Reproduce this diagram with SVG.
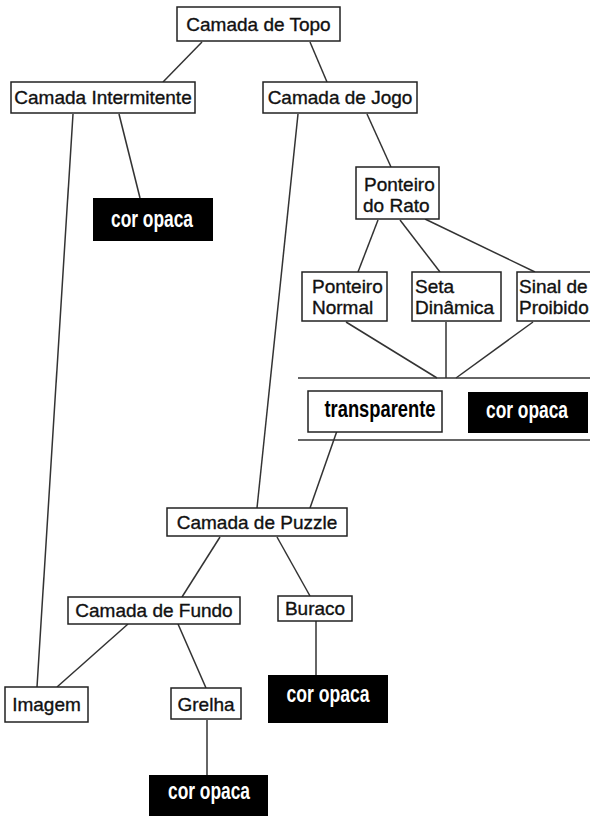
<svg xmlns="http://www.w3.org/2000/svg" width="590" height="816" viewBox="0 0 590 816">
<style>
.b{fill:#fff;stroke:#222;stroke-width:1.5}
.k{fill:#000;stroke:none}
.t{font-family:"Liberation Sans",Arial,sans-serif;font-size:19px;fill:#111;stroke:#111;stroke-width:0.35}
.c{text-anchor:middle}
.w{font-family:"Liberation Sans",Arial,sans-serif;font-weight:bold;font-size:24px;fill:#fff}
.d{font-family:"Liberation Sans",Arial,sans-serif;font-weight:bold;font-size:24px;fill:#000}
.e{stroke:#333;stroke-width:1.5;fill:none}
</style>
<rect width="590" height="816" fill="#fff"/>
<g id="connectors">
<line class="e" x1="202" y1="42" x2="163" y2="82"/>
<line class="e" x1="310" y1="42" x2="327" y2="82"/>
<line class="e" x1="73" y1="114" x2="37" y2="687"/>
<line class="e" x1="119" y1="114" x2="140" y2="198"/>
<line class="e" x1="298" y1="114" x2="257" y2="508"/>
<line class="e" x1="367" y1="114" x2="391" y2="167"/>
<line class="e" x1="378" y1="220" x2="358" y2="272"/>
<line class="e" x1="400" y1="220" x2="440" y2="272"/>
<line class="e" x1="425" y1="219" x2="535" y2="272"/>
<line class="e" x1="346" y1="322" x2="437" y2="378"/>
<line class="e" x1="446" y1="322" x2="446" y2="378"/>
<line class="e" x1="533" y1="322" x2="456" y2="378"/>
<line class="e" x1="298" y1="378" x2="590" y2="378"/>
<line class="e" x1="298" y1="440" x2="590" y2="440"/>
<line class="e" x1="338" y1="428" x2="310" y2="508"/>
<line class="e" x1="220" y1="537" x2="182" y2="597"/>
<line class="e" x1="277" y1="537" x2="310" y2="596"/>
<line class="e" x1="128" y1="624" x2="57" y2="687"/>
<line class="e" x1="178" y1="624" x2="206" y2="688"/>
<line class="e" x1="316" y1="621" x2="316" y2="675"/>
<line class="e" x1="207" y1="720" x2="207" y2="775"/>
</g>
<g id="topo"><rect class="b" x="177" y="7" width="163" height="34"/><text class="t c" x="258.5" y="31">Camada de Topo</text></g>
<g id="intermitente"><rect class="b" x="11" y="82" width="184" height="31"/><text class="t c" x="103" y="104">Camada Intermitente</text></g>
<g id="jogo"><rect class="b" x="263" y="82" width="154" height="31"/><text class="t c" x="340" y="104">Camada de Jogo</text></g>
<g id="opaca1"><rect class="k" x="93" y="198" width="120" height="43"/><text class="w c" x="152" y="227" textLength="82" lengthAdjust="spacingAndGlyphs">cor opaca</text></g>
<g id="rato"><rect class="b" x="356" y="167" width="83" height="52"/><text class="t" x="364" y="191">Ponteiro</text><text class="t" x="363" y="212">do Rato</text></g>
<g id="normal"><rect class="b" x="302" y="272" width="85" height="49"/><text class="t" x="312" y="293">Ponteiro</text><text class="t" x="312" y="314">Normal</text></g>
<g id="seta"><rect class="b" x="412" y="272" width="89" height="49"/><text class="t" x="415" y="293">Seta</text><text class="t" x="415" y="314">Dinâmica</text></g>
<g id="proibido"><rect class="b" x="517" y="272" width="80" height="49"/><text class="t" x="519" y="293">Sinal de</text><text class="t" x="519" y="314">Proibido</text></g>
<g id="transparente"><rect class="b" x="308" y="391" width="134" height="41"/><text class="d c" x="380" y="417" textLength="111" lengthAdjust="spacingAndGlyphs">transparente</text></g>
<g id="opaca2"><rect class="k" x="468" y="392" width="120" height="41"/><text class="w c" x="527" y="418" textLength="82" lengthAdjust="spacingAndGlyphs">cor opaca</text></g>
<g id="puzzle"><rect class="b" x="167" y="508" width="180" height="28"/><text class="t c" x="257" y="529">Camada de Puzzle</text></g>
<g id="fundo"><rect class="b" x="68" y="597" width="172" height="27"/><text class="t c" x="154" y="617">Camada de Fundo</text></g>
<g id="buraco"><rect class="b" x="278" y="596" width="74" height="25"/><text class="t c" x="315" y="615">Buraco</text></g>
<g id="opaca3"><rect class="k" x="268" y="675" width="120" height="48"/><text class="w c" x="328" y="702" textLength="83" lengthAdjust="spacingAndGlyphs">cor opaca</text></g>
<g id="imagem"><rect class="b" x="5" y="687" width="83" height="35"/><text class="t c" x="46.5" y="711">Imagem</text></g>
<g id="grelha"><rect class="b" x="171" y="688" width="70" height="31"/><text class="t c" x="206" y="711">Grelha</text></g>
<g id="opaca4"><rect class="k" x="149" y="775" width="119" height="41"/><text class="w c" x="209" y="799" textLength="82" lengthAdjust="spacingAndGlyphs">cor opaca</text></g>
</svg>
